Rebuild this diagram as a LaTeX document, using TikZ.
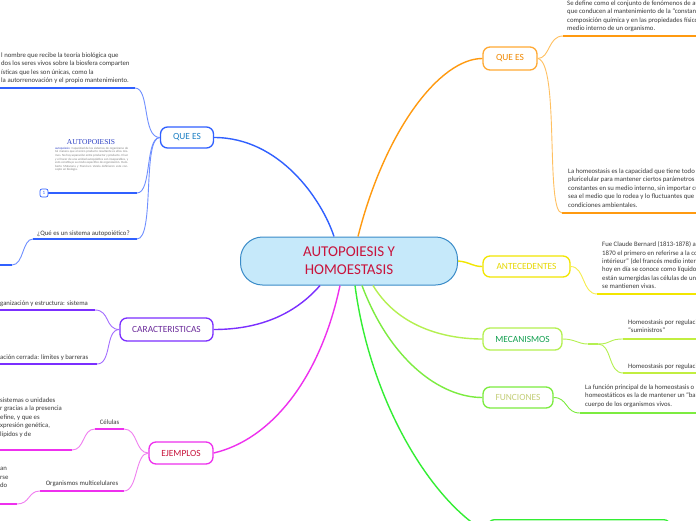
\documentclass[tikz,border=0pt]{standalone}
\usepackage{fontspec}
\setmainfont{Carlito}
\newfontfamily\serifimg{Liberation Serif}
\definecolor{bodytext}{HTML}{3A3A3A}
\definecolor{cfill}{HTML}{C6E9FA}
\definecolor{cborder}{HTML}{3A8BC8}
\definecolor{ctext}{HTML}{C8143C}
\definecolor{blueln}{HTML}{3060FF}
\definecolor{bluesub}{HTML}{6F8FFF}
\definecolor{bluetxt}{HTML}{1B7FC4}
\definecolor{orangeln}{HTML}{FF9A10}
\definecolor{orangesub}{HTML}{FFC060}
\definecolor{orangetxt}{HTML}{F08800}
\definecolor{yellowln}{HTML}{F2E600}
\definecolor{yellowtxt}{HTML}{E6D800}
\definecolor{mecln}{HTML}{B4F050}
\definecolor{mectxt}{HTML}{12A050}
\definecolor{funcln}{HTML}{7CEC40}
\definecolor{functxt}{HTML}{C4CE78}
\definecolor{greenln}{HTML}{33EE33}
\definecolor{violetln}{HTML}{7B2FFF}
\definecolor{violettxt}{HTML}{6A2A9A}
\definecolor{magln}{HTML}{EE30EE}
\definecolor{magsub}{HTML}{F080F0}
\definecolor{imgblue}{HTML}{2B3FC4}
\tikzset{
 topic/.style={draw, fill=white, rounded corners=7pt, line width=1.3pt, inner sep=0pt, font=\fontsize{9.4}{11}\selectfont},
 centralbox/.style={draw=cborder, fill=cfill, rounded corners=22pt, line width=1pt, inner sep=0pt, align=center, text=ctext, minimum width=217pt, minimum height=48pt, font=\fontsize{15}{18}\selectfont},
 txt/.style={anchor=north west, inner sep=0pt, align=left, font=\fontsize{6.75}{8.5}\selectfont, text=bodytext},
 lbl/.style={inner sep=0pt, font=\fontsize{6.75}{8.5}\selectfont, text=bodytext},
 ul/.style={line width=2.3pt},
 conn/.style={line width=1.4pt},
 sub/.style={line width=0.9pt},
}
\begin{document}
\begin{tikzpicture}[x=1pt,y=-1pt]
\useasboundingbox (0,0) rectangle (696,520);
\clip (0,0) rectangle (696,520);
\fill[white] (0,0) rectangle (696,520);

% central
\node[centralbox] (c) at (349,261) {AUTOPOIESIS Y\\HOMOESTASIS};

% topics
\node[topic, draw=blueln, text=bluetxt, minimum width=53pt, minimum height=21pt] (qe1) at (187,137.5) {QUE ES};
\node[topic, draw=violetln, text=violettxt, minimum width=93pt, minimum height=23pt] (car) at (166.5,329.5) {CARACTERISTICAS};
\node[topic, draw=magln, text=ctext, minimum width=64pt, minimum height=22pt] (ej) at (181,453) {EJEMPLOS};
\node[topic, draw=orangeln!85, text=orangetxt, minimum width=54pt, minimum height=23pt] (qe2) at (510,58.5) {QUE ES};
\node[topic, draw=yellowln, text=yellowtxt, minimum width=87pt, minimum height=21pt] (ant) at (526.5,266.5) {ANTECEDENTES};
\node[topic, draw=mecln, text=mectxt, minimum width=79pt, minimum height=22pt] (mec) at (522.5,339) {MECANISMOS};
\node[topic, draw=funcln, text=functxt, minimum width=70pt, minimum height=21pt] (fun) at (518,397.5) {FUNCIONES};
\node[topic, draw=greenln, minimum width=183pt, minimum height=26pt, anchor=north west] (bot) at (487,519) {};

% main connectors
\draw[conn, blueln] ([xshift=-15pt]c.north) .. controls (322,200) and (280,137.5) .. (qe1.east);
\draw[conn, orangeln] ([xshift=9pt]c.north) .. controls (385,130) and (440,58.5) .. (qe2.west);
\draw[conn, yellowln] (c.east) .. controls (470,262) and (472,266.5) .. (ant.west);
\draw[conn, mecln] ([xshift=24pt]c.south) .. controls (400,330) and (450,339) .. (mec.west);
\draw[conn, funcln] ([xshift=13pt]c.south) .. controls (390,360) and (440,397.5) .. (fun.west);
\draw[conn, greenln] ([xshift=6pt]c.south) .. controls (370,400) and (430,500) .. (bot.west);
\draw[conn, violetln] ([xshift=-29pt]c.south) .. controls (290,320) and (250,329.5) .. (car.east);
\draw[conn, magln] ([xshift=-9pt]c.south) .. controls (320,380) and (270,440) .. (ej.east);

% ---- blue QUE ES children
\coordinate (b1r) at (135,88);  \coordinate (b1l) at (0,88);
\coordinate (b2r) at (137,193); \coordinate (b2l) at (48,193);
\coordinate (b3r) at (137,239); \coordinate (b3l) at (33,239);
\coordinate (b4r) at (12,265);  \coordinate (b4l) at (0,265);
\draw[ul, blueln] (b1l) -- (b1r);
\draw[ul, blueln] (b2l) -- (b2r);
\draw[ul, blueln] (b3l) -- (b3r);
\draw[ul, blueln] (b4l) -- (b4r);
\draw[sub, bluesub] (qe1.west) .. controls (142,137.5) and (150,88) .. (b1r);
\draw[sub, bluesub] (qe1.west) .. controls (145,137.5) and (152,193) .. (b2r);
\draw[sub, bluesub] (qe1.west) .. controls (142,137.5) and (155,239) .. (b3r);
\draw[sub, bluesub] (b3l) .. controls (22,239) and (24,265) .. (b4r);

\node[txt] (t1) at (1,52.5) {l nombre que recibe la teoría biológica que\\dos los seres vivos sobre la biosfera comparten\\ísticas que les son únicas, como la\\ la autorrenovación y el propio mantenimiento.};
\node[lbl, anchor=base west] (qs) at (37,235.5) {¿Qué es un sistema autopoiético?};
\node[draw=blueln, fill=white, rounded corners=2pt, line width=0.7pt, minimum width=8pt, minimum height=8pt, inner sep=0pt, font=\fontsize{5}{5}\selectfont, text=blueln] (one) at (44,193) {1};
\node[inner sep=0pt, font=\serifimg\fontsize{7.5}{8}\selectfont, text=imgblue] (imgt) at (91,142) {AUTOPOIESIS};
\node[anchor=north west, inner sep=0pt, text width=73pt, align=justify, font=\fontsize{3.1}{3.6}\selectfont, text=gray] (imgb) at (55,147) {\textcolor{imgblue}{autopoiesis:} Capacidad de los sistemas de organizarse de tal manera que el único producto resultante es ellos mismos. No hay separación entre productor y producto. El ser y el hacer de una unidad autopoiética son inseparables, y esto constituye su modo específico de organización. Humberto Maturana y Francisco Varela definieron este concepto en biología.};

% ---- CARACTERISTICAS children
\coordinate (v1r) at (95,310);  \coordinate (v1l) at (0,310);
\coordinate (v2r) at (97,364);  \coordinate (v2l) at (0,364);
\draw[ul, violetln] (v1l) -- (v1r);
\draw[ul, violetln] (v2l) -- (v2r);
\draw[sub, violetln!70] (car.west) .. controls (105,329.5) and (110,310) .. (v1r);
\draw[sub, violetln!70] (car.west) .. controls (105,329.5) and (112,364) .. (v2r);
\node[lbl, anchor=base west] (car1) at (0,305) {ganización y estructura: sistema};
\node[lbl, anchor=base west] (car2) at (0,359) {ación cerrada: límites y barreras};

% ---- EJEMPLOS children
\coordinate (e1r) at (124,429); \coordinate (e1l) at (95,429);
\coordinate (e2r) at (124,491); \coordinate (e2l) at (40,491);
\coordinate (e3r) at (72,450);  \coordinate (e3l) at (0,450);
\coordinate (e4r) at (17,504);  \coordinate (e4l) at (0,504);
\draw[ul, magln] (e1l) -- (e1r);
\draw[ul, magln] (e2l) -- (e2r);
\draw[ul, magln] (e3l) -- (e3r);
\draw[ul, magln] (e4l) -- (e4r);
\draw[sub, magsub] (ej.west) .. controls (135,453) and (138,429) .. (e1r);
\draw[sub, magsub] (ej.west) .. controls (135,453) and (138,491) .. (e2r);
\draw[sub, magsub] (e1l) .. controls (82,429) and (85,450) .. (e3r);
\draw[sub, magsub] (e2l) .. controls (28,491) and (30,504) .. (e4r);
\node[lbl, anchor=base] (cel) at (109.5,424.5) {Células};
\node[lbl, anchor=base] (org) at (82,485.5) {Organismos multicelulares};
\node[txt] (celt) at (0,397.5) {sistemas o unidades\\r gracias a la presencia\\efine, y que es\\xpresión genética,\\lípidos y de};
\node[txt] (orgt) at (0,467.5) {an\\rse\\do};

% ---- orange QUE ES children
\coordinate (o1l) at (563,36);  \coordinate (o1r) at (696,36);
\coordinate (o2l) at (562,213); \coordinate (o2r) at (696,213);
\draw[ul, orangeln] (o1l) -- (o1r);
\draw[ul, orangeln] (o2l) -- (o2r);
\draw[sub, orangesub] (qe2.east) .. controls (550,58.5) and (548,36) .. (o1l);
\draw[sub, orangesub] (qe2.east) .. controls (560,62) and (545,213) .. (o2l);
\node[txt] (r1) at (567,0.5) {Se define como el conjunto de fenómenos de autorregulación,\\que conducen al mantenimiento de la “constancia” en la\\composición química y en las propiedades físico-químicas del\\medio interno de un organismo.};
\node[txt] (r2) at (568,168.5) {La homeostasis es la capacidad que tiene todo organismo\\pluricelular para mantener ciertos parámetros fisiológicos\\constantes en su medio interno, sin importar cuál\\sea el medio que lo rodea y lo fluctuantes que sean las\\condiciones ambientales.};

% ---- ANTECEDENTES child
\coordinate (a1l) at (597,294); \coordinate (a1r) at (696,294);
\draw[ul, yellowln] (a1l) -- (a1r);
\draw[sub, yellowln!70] (ant.east) .. controls (585,266.5) and (582,294) .. (a1l);
\node[txt, font=\fontsize{6.75}{8.4}\selectfont] (r3) at (602,241.5) {Fue Claude Bernard (1813-1878) alrededor de\\1870 el primero en referirse a la constancia del “milieu\\intérieur” (del francés medio interno), lo que\\hoy en día se conoce como líquido extracelular\\están sumergidas las células de un organismo\\se mantienen vivas.};

% ---- MECANISMOS children
\coordinate (mj1) at (588,344); \coordinate (mj2) at (598,344);
\coordinate (m1l) at (623,339); \coordinate (m1r) at (696,339);
\coordinate (m2l) at (623,373); \coordinate (m2r) at (696,373);
\draw[sub, mecln] (mec.east) .. controls (575,339) and (578,344) .. (mj1);
\draw[ul, mecln] (mj1) -- (mj2);
\draw[ul, mecln!80!yellowln] (m1l) -- (m1r);
\draw[ul, mecln!80!yellowln] (m2l) -- (m2r);
\draw[sub, mecln] (mj2) .. controls (612,344) and (608,339) .. (m1l);
\draw[sub, mecln] (mj2) .. controls (612,344) and (608,373) .. (m2l);
\node[txt] (m1t) at (628,319.5) {Homeostasis por regulación de los\\“suministros”};
\node[lbl, anchor=base west] (m2t) at (628,368) {Homeostasis por regulación de las};

% ---- FUNCIONES child
\coordinate (f1l) at (580,413); \coordinate (f1r) at (696,413);
\draw[ul, funcln] (f1l) -- (f1r);
\draw[sub, funcln] (fun.east) .. controls (568,397.5) and (565,413) .. (f1l);
\node[txt] (f1t) at (585,384.5) {La función principal de la homeostasis o de los mecanismos\\homeostáticos es la de mantener un “balance” en el\\cuerpo de los organismos vivos.};
\end{tikzpicture}
\end{document}
